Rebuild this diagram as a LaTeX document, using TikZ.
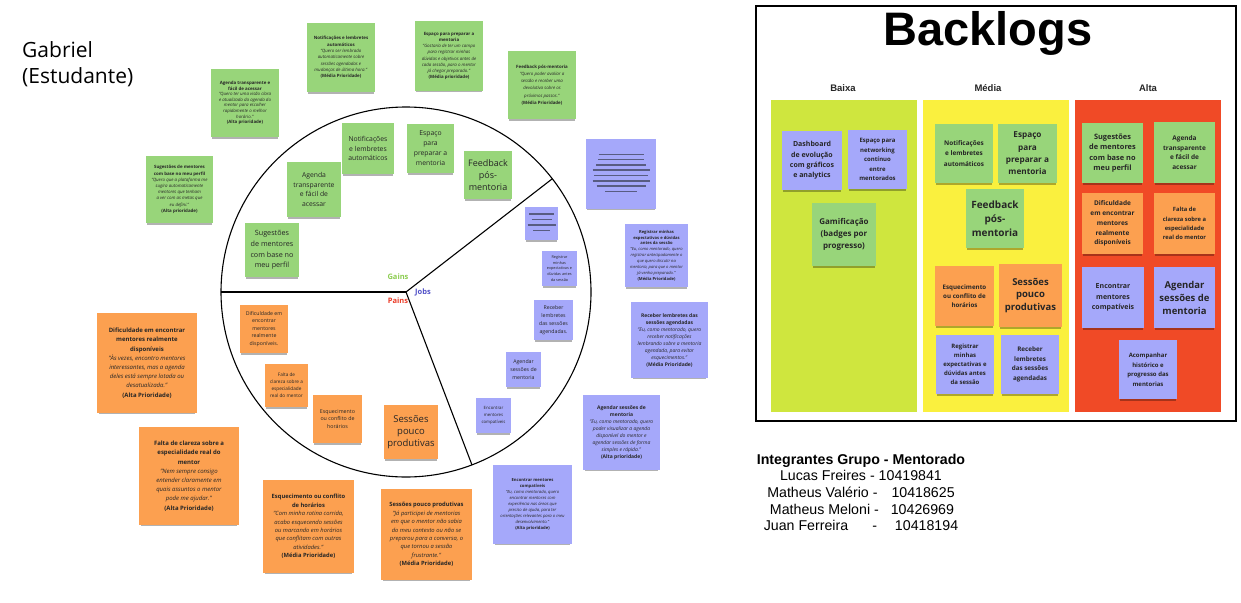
\documentclass[tikz,border=0pt]{standalone}
\usepackage{fontspec}
\setmainfont{Open Sans}
\newfontfamily\arialf{Liberation Sans}
\usetikzlibrary{shadows}
\definecolor{gnc}{RGB}{152,213,122}
\definecolor{bnc}{RGB}{165,168,250}
\definecolor{onc}{RGB}{252,160,80}
\definecolor{baixac}{RGB}{207,230,62}
\definecolor{mediac}{RGB}{250,240,62}
\definecolor{altac}{RGB}{240,74,38}
\definecolor{gainsc}{RGB}{140,205,80}
\definecolor{jobsc}{RGB}{80,80,200}
\definecolor{painsc}{RGB}{235,60,40}
\definecolor{linec}{RGB}{88,92,130}
\begin{document}
\begin{tikzpicture}[x=1pt,y=-1pt,
  note/.style={inner sep=0pt, align=center, text=black!85,
    drop shadow={shadow xshift=0pt, shadow yshift=-3pt, opacity=.3, fill=black, shadow scale=0.96}},
  gnote/.style={note, fill=gnc},
  bnote/.style={note, fill=bnc},
  onote/.style={note, fill=onc},
  sz/.style 2 args={minimum width=#1, minimum height=#2},
  fs/.style 2 args={font=\fontsize{#1}{#2}\selectfont},
  bfs/.style 2 args={font=\fontsize{#1}{#2}\selectfont\bfseries},
  col/.style={draw=none, inner sep=0pt},
  lbl/.style={inner sep=0pt, font=\fontsize{7.5}{9}\selectfont\bfseries},
  ptext/.style={inner sep=0pt, font=\arialf\fontsize{14.2}{17}\selectfont},
]
\useasboundingbox[fill=white] (0,0) rectangle (1241,602);

% ---------- Gabriel ----------
\node[inner sep=0pt, anchor=base west, font=\fontsize{21}{25}\selectfont] (gab1) at (22,57) {Gabriel};
\node[inner sep=0pt, anchor=base west, font=\fontsize{21}{25}\selectfont] (gab2) at (22,83) {(Estudante)};

% ---------- circle ----------
\coordinate (C) at (406,292);
\coordinate (P1) at (221,292);
\coordinate (P2) at (552,179);
\coordinate (P3) at (472,465);
\draw[line width=1.1pt] (C) circle[radius=185pt];
\draw[line width=1.1pt] (C) -- (P1);
\draw[line width=1.1pt] (C) -- (P2);
\draw[line width=1.1pt] (C) -- (P3);
\node[lbl, text=gainsc] (gains) at (398,277) {Gains};
\node[lbl, text=jobsc] (jobs) at (423,292) {Jobs};
\node[lbl, text=painsc] (pains) at (398,301) {Pains};

% ---------- outer green notes ----------
\node[gnote, sz={68}{68}, fs={4.4}{5.6}] (g1) at (245,103) {\textbf{Agenda transparente e}\\\textbf{fácil de acessar}\\\textit{"Quero ter uma visão clara}\\\textit{e atualizada da agenda do}\\\textit{mentor para escolher}\\\textit{rapidamente o melhor}\\\textit{horário."}\\\textbf{(Alta prioridade)}};
\node[gnote, sz={67}{67}, fs={4.4}{6.2}] (g2) at (179.5,189.5) {\textbf{Sugestões de mentores}\\\textbf{com base no meu perfil}\\\textit{"Quero que a plataforma me}\\\textit{sugira automaticamente}\\\textit{mentores que tenham}\\\textit{a ver com as metas que}\\\textit{eu defini."}\\\textbf{(Alta prioridade)}};
\node[gnote, sz={68}{69}, fs={4.4}{6.3}] (g3) at (341,57.5) {\textbf{Notificações e lembretes}\\\textbf{automáticos}\\\textit{"Quero ser lembrado}\\\textit{automaticamente sobre}\\\textit{sessões agendadas e}\\\textit{mudanças de última hora."}\\\textbf{(Média Prioridade)}};
\node[gnote, sz={68}{70}, fs={4.4}{6.2}] (g4) at (449,56) {\textbf{Espaço para preparar a}\\\textbf{mentoria}\\\textit{"Gostaria de ter um campo}\\\textit{para registrar minhas}\\\textit{dúvidas e objetivos antes de}\\\textit{cada sessão, para o mentor}\\\textit{já chegar preparado."}\\\textbf{(Média prioridade)}};
\node[gnote, sz={68}{68}, fs={4.4}{7.2}] (g5) at (542,85) {\textbf{Feedback pós-mentoria}\\\textit{"Quero poder avaliar a}\\\textit{sessão e receber uma}\\\textit{devolutiva sobre os}\\\textit{próximos passos."}\\\textbf{(Média Prioridade)}};

% ---------- inner green notes ----------
\node[gnote, sz={52}{51}, fs={6.8}{9.5}] (i1) at (368,148.5) {Notificações\\e lembretes\\automáticos};
\node[gnote, sz={47}{49}, fs={6.8}{10}] (i2) at (430.5,148.5) {Espaço\\para\\preparar a\\mentoria};
\node[gnote, sz={48}{48}, fs={9}{12.3}] (i3) at (488,175) {Feedback\\pós-\\mentoria};
\node[gnote, sz={54}{55}, fs={6.8}{9.8}] (i4) at (314,189.5) {Agenda\\transparente\\e fácil de\\acessar};
\node[gnote, sz={54}{54}, fs={7.2}{10.7}] (i5) at (272,250) {Sugestões\\de mentores\\com base no\\meu perfil};

% ---------- outer blue notes ----------
\node[bnote, sz={70}{70}] (B1) at (621,174) {};
\foreach \w [count=\i] in {45,46,50,57,54,57,49,32}
  \draw[linec, line width=1.5pt] ({621-\w/2},{149+\i*5.3}) -- ({621+\w/2},{149+\i*5.3});
\node[bnote, sz={63}{63}, fs={4.1}{5.9}] (B2) at (656.5,255.5) {\textbf{Registrar minhas}\\\textbf{expectativas e dúvidas}\\\textbf{antes da sessão}\\\textit{"Eu, como mentorado, quero}\\\textit{registrar antecipadamente o}\\\textit{que quero discutir na}\\\textit{mentoria, para que o mentor}\\\textit{já venha preparado."}\\\textbf{(Média Prioridade)}};
\node[bnote, sz={77}{76}, fs={5}{7}] (B3) at (669.5,340) {\textbf{Receber lembretes das}\\\textbf{sessões agendadas}\\\textit{"Eu, como mentorado, quero}\\\textit{receber notificações}\\\textit{lembrando sobre a mentoria}\\\textit{agendada, para evitar}\\\textit{esquecimentos."}\\\textbf{(Média Prioridade)}};
\node[bnote, sz={77}{75}, fs={5}{7}] (B4) at (621.5,432.5) {\textbf{Agendar sessões de}\\\textbf{mentoria}\\\textit{"Eu, como mentorado, quero}\\\textit{poder visualizar a agenda}\\\textit{disponível do mentor e}\\\textit{agendar sessões de forma}\\\textit{simples e rápida."}\\\textbf{(Alta prioridade)}};
\node[bnote, sz={79}{79}, fs={4.2}{6}] (B5) at (532.5,504.5) {\textbf{Encontrar mentores}\\\textbf{compatíveis}\\\textit{"Eu, como mentorado, quero}\\\textit{encontrar mentores com}\\\textit{experiência nas áreas que}\\\textit{preciso de ajuda, para ter}\\\textit{orientações relevantes para o meu}\\\textit{desenvolvimento."}\\\textbf{(Alta prioridade)}};

% ---------- inner blue notes ----------
\node[bnote, sz={33}{33}] (b1) at (541.5,223.5) {};
\foreach \w/\yy in {25/214,20/219.5,28/225,17/230.5}
  \draw[linec, line width=1.2pt] ({541.5-\w/2},\yy) -- ({541.5+\w/2},\yy);
\node[bnote, sz={35}{35}, fs={3.8}{5.6}] (b2) at (559.5,268.5) {Registrar\\minhas\\expectativas e\\dúvidas antes\\da sessão};
\node[bnote, sz={39}{40}, fs={5.2}{7.8}] (b3) at (553.5,320) {Receber\\lembretes\\das sessões\\agendadas.};
\node[bnote, sz={35}{35}, fs={5.2}{8}] (b4) at (523.5,369.5) {Agendar\\sessões de\\mentoria};
\node[bnote, sz={35}{35}, fs={4.3}{6.7}] (b5) at (493.5,415.5) {Encontrar\\mentores\\compatíveis};

% ---------- outer orange notes ----------
\node[onote, sz={100}{100}, fs={6}{9.2}] (O1) at (147,363) {\textbf{Dificuldade em encontrar}\\\textbf{mentores realmente}\\\textbf{disponíveis}\\\textit{"Às vezes, encontro mentores}\\\textit{interessantes, mas a agenda}\\\textit{deles está sempre lotada ou}\\\textit{desatualizada."}\\\textbf{(Alta Prioridade)}};
\node[onote, sz={100}{98}, fs={6}{9.2}] (O2) at (189,476) {\textbf{Falta de clareza sobre a}\\\textbf{especialidade real do}\\\textbf{mentor}\\\textit{"Nem sempre consigo}\\\textit{entender claramente em}\\\textit{quais assuntos o mentor}\\\textit{pode me ajudar."}\\\textbf{(Alta Prioridade)}};
\node[onote, sz={91}{93}, fs={5.8}{8.4}] (O3) at (308.5,526.5) {\textbf{Esquecimento ou conflito}\\\textbf{de horários}\\\textit{"Com minha rotina corrida,}\\\textit{acabo esquecendo sessões}\\\textit{ou marcando em horários}\\\textit{que conflitam com outras}\\\textit{atividades."}\\\textbf{(Média Prioridade)}};
\node[onote, sz={91}{91}, fs={5.8}{8.4}] (O4) at (426.5,534.5) {\textbf{Sessões pouco produtivas}\\\textit{"Já participei de mentorias}\\\textit{em que o mentor não sabia}\\\textit{do meu contexto ou não se}\\\textit{preparou para a conversa, o}\\\textit{que tornou a sessão}\\\textit{frustrante."}\\\textbf{(Média Prioridade)}};

% ---------- inner orange notes ----------
\node[onote, sz={48}{48}, fs={5.2}{7.5}] (o1) at (264,329) {Dificuldade em\\encontrar\\mentores\\realmente\\disponíveis.};
\node[onote, sz={43}{43}, fs={4.7}{7}] (o2) at (286.5,385.5) {Falta de\\clareza sobre a\\especialidade\\real do mentor};
\node[onote, sz={49}{48}, fs={5.3}{7.5}] (o3) at (337.5,419) {Esquecimento\\ou conflito de\\horários};
\node[onote, sz={54}{54}, fs={9.5}{12}] (o4) at (411,432) {Sessões\\pouco\\produtivas};

% ---------- Backlogs panel ----------
\node[draw=black, line width=1.3pt, inner sep=0pt, minimum width=480, minimum height=415] (panel) at (996,213.5) {};
\node[inner sep=0pt, anchor=base, font=\arialf\bfseries\fontsize{47}{50}\selectfont] (title) at (988,46) {Backlogs};
\node[col, fill=baixac, sz={146}{312}] (baixa) at (844,256) {};
\node[col, fill=mediac, sz={146}{312}] (media) at (996,256) {};
\node[col, fill=altac, sz={146}{312}] (alta) at (1148,256) {};
\node[inner sep=0pt, anchor=base, font=\arialf\bfseries\fontsize{9.5}{11}\selectfont, text=black!85] (hb) at (843,92) {Baixa};
\node[inner sep=0pt, anchor=base, font=\arialf\bfseries\fontsize{9.5}{11}\selectfont, text=black!85] (hm) at (988,92) {Média};
\node[inner sep=0pt, anchor=base, font=\arialf\bfseries\fontsize{9.5}{11}\selectfont, text=black!85] (ha) at (1148,92) {Alta};

% Baixa
\node[bnote, sz={60}{59}, bfs={7}{10.3}] (k1) at (812,160.5) {Dashboard\\de evolução\\com gráficos\\e analytics};
\node[bnote, sz={59}{59}, bfs={6}{9.5}] (k2) at (877.5,159.5) {Espaço para\\networking\\contínuo\\entre\\mentorados};
\node[gnote, sz={64}{63}, bfs={8}{11.7}] (k3) at (844,234.5) {Gamificação\\(badges por\\progresso)};
% Média
\node[gnote, sz={58}{59}, bfs={6.4}{10.5}] (k4) at (964,153.5) {Notificações\\e lembretes\\automáticos};
\node[gnote, sz={59}{59}, bfs={8.2}{12.3}] (k5) at (1027.5,153.5) {Espaço\\para\\preparar a\\mentoria};
\node[gnote, sz={58}{59}, bfs={10}{14}] (k6) at (995,218.5) {Feedback\\pós-\\mentoria};
\node[onote, sz={59}{60}, bfs={6.2}{9.2}] (k7) at (964.5,296) {Esquecimento\\ou conflito de\\horários};
\node[onote, sz={63}{63}, bfs={9.5}{12.7}] (k8) at (1030.5,295.5) {Sessões\\pouco\\produtivas};
\node[bnote, sz={58}{59}, bfs={6}{9}] (k9) at (965,364.5) {Registrar\\minhas\\expectativas e\\dúvidas antes\\da sessão};
\node[bnote, sz={58}{59}, bfs={6.3}{9.5}] (k10) at (1030,364.5) {Receber\\lembretes\\das sessões\\agendadas};
% Alta
\node[gnote, sz={61}{60}, bfs={7.4}{10.5}] (k11) at (1112.5,153) {Sugestões\\de mentores\\com base no\\meu perfil};
\node[gnote, sz={61}{61}, bfs={6.5}{9.6}] (k12) at (1184.5,152.5) {Agenda\\transparente\\e fácil de\\acessar};
\node[onote, sz={61}{61}, bfs={6.5}{9.8}] (k13) at (1112.5,223.5) {Dificuldade\\em encontrar\\mentores\\realmente\\disponíveis};
\node[onote, sz={61}{61}, bfs={5.8}{9.3}] (k14) at (1184.5,223.5) {Falta de\\clareza sobre a\\especialidade\\real do mentor};
\node[bnote, sz={62}{61}, bfs={7}{10.7}] (k15) at (1113,297.5) {Encontrar\\mentores\\compatíveis};
\node[bnote, sz={61}{61}, bfs={9.5}{13}] (k16) at (1184.5,297.5) {Agendar\\sessões de\\mentoria};
\node[bnote, sz={58}{59}, bfs={6}{9.5}] (k17) at (1148,369.5) {Acompanhar\\histórico e\\progresso das\\mentorias};

% ---------- Integrantes ----------
\node[ptext, anchor=base, font=\arialf\bfseries\fontsize{14.2}{17}\selectfont] (int) at (861,464) {Integrantes Grupo - Mentorado};
\node[ptext, anchor=base] (m1) at (861,480) {Lucas Freires - 10419841};
\node[ptext, anchor=base] (m2) at (861,497) {Matheus Valério -\hspace{14pt}10418625};
\node[ptext, anchor=base] (m3) at (862,514) {Matheus Meloni -\hspace{12pt}10426969};
\node[ptext, anchor=base] (m4) at (861,530) {Juan Ferreira\hspace{24pt}-\hspace{18pt}10418194};
\end{tikzpicture}
\end{document}
